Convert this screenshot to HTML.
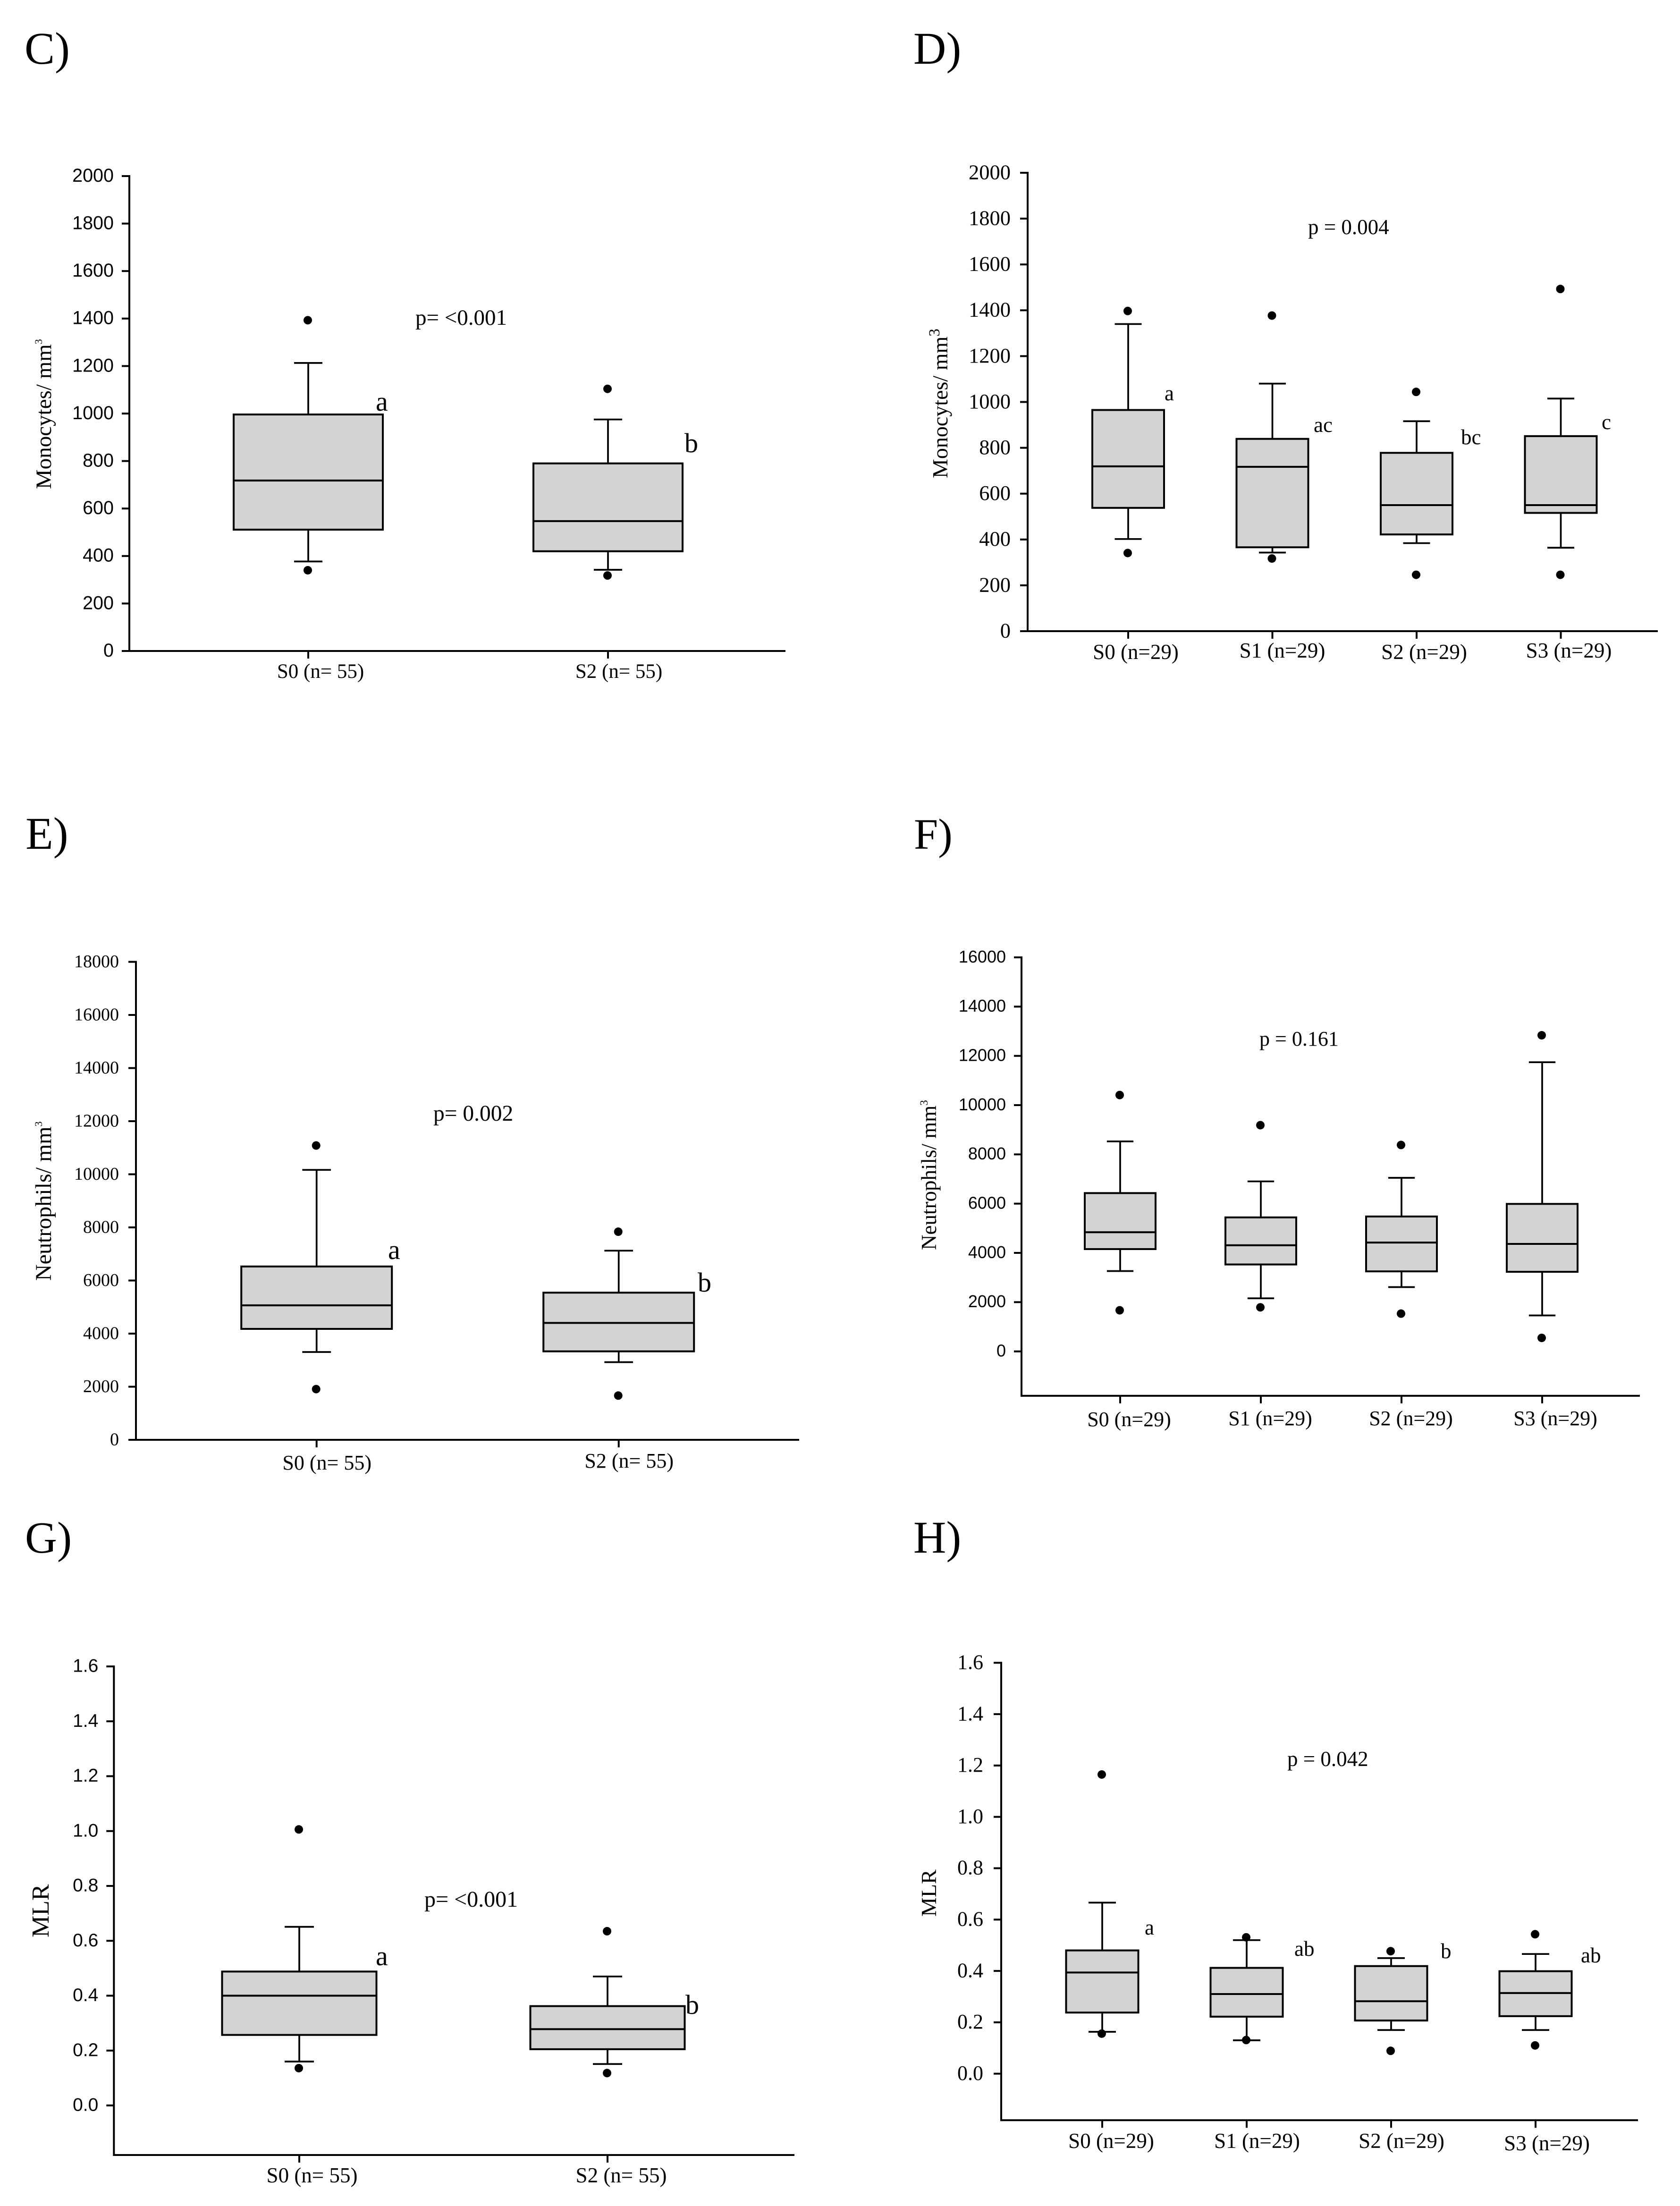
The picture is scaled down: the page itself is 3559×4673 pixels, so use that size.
<!DOCTYPE html>
<html lang="en">
<head>
<meta charset="utf-8">
<title>Monocytes, neutrophils and MLR box plots</title>
<style>
html,body{margin:0;padding:0;background:#fff;}
svg{display:block;}
text{font-family:"Liberation Serif",serif;fill:#000;}
.sans{font-family:"Liberation Sans",sans-serif;}
</style>
</head>
<body>
<svg id="figure" xmlns="http://www.w3.org/2000/svg" width="3559" height="4673" viewBox="0 0 3559 4673">
<rect x="0" y="0" width="3559" height="4673" fill="#fff"/>

<g id="panel-c">
<text x="52" y="135" font-size="96">C)</text>
<text transform="translate(108 1036) rotate(-90)" font-size="47">Monocytes/ mm<tspan dy="-19" font-size="22">3</tspan></text>
<text x="880" y="688" font-size="47">p= &lt;0.001</text>
<text x="796" y="870" font-size="58">a</text>
<text x="1450" y="958" font-size="58">b</text>
</g>

<g id="panel-d">
<text x="1935" y="135" font-size="96">D)</text>
<text transform="translate(2007 1013) rotate(-90)" font-size="46">Monocytes/ mm<tspan dy="-17" font-size="33">3</tspan></text>
<text x="2771" y="496" font-size="45">p = 0.004</text>
<text x="2467" y="848" font-size="45">a</text>
<text x="2783" y="915" font-size="45">ac</text>
<text x="3095" y="941" font-size="45">bc</text>
<text x="3393" y="909" font-size="45">c</text>
</g>

<g id="panel-e">
<text x="54" y="1798" font-size="96">E)</text>
<text transform="translate(108 2713) rotate(-90)" font-size="48">Neutrophils/ mm<tspan dy="-19" font-size="22">3</tspan></text>
<text x="918" y="2374" font-size="47.5">p= 0.002</text>
<text x="822" y="2667" font-size="58">a</text>
<text x="1478" y="2736" font-size="58">b</text>
</g>

<g id="panel-f">
<text x="1936" y="1798" font-size="92">F)</text>
<text transform="translate(1983 2648) rotate(-90)" font-size="45">Neutrophils/ mm<tspan dy="-18" font-size="23">3</tspan></text>
<text x="2668" y="2215" font-size="44">p = 0.161</text>
</g>

<g id="panel-g">
<text x="53" y="3289" font-size="94">G)</text>
<text transform="translate(103 4104) rotate(-90)" font-size="52">MLR</text>
<text x="899" y="4039" font-size="48">p= &lt;0.001</text>
<text x="796" y="4163" font-size="58">a</text>
<text x="1452" y="4266" font-size="58">b</text>
</g>

<g id="panel-h">
<text x="1935" y="3289" font-size="96">H)</text>
<text transform="translate(1983 4060) rotate(-90)" font-size="46">MLR</text>
<text x="2727" y="3741" font-size="45">p = 0.042</text>
<text x="2425" y="4098" font-size="45">a</text>
<text x="2742" y="4143" font-size="45">ab</text>
<text x="3052" y="4148" font-size="45">b</text>
<text x="3349" y="4157" font-size="45">ab</text>
</g>
</svg>

<script>
// ---- Panel C: Monocytes, two sessions ----
const cCategories = ['S0 (n= 55)', 'S2 (n= 55)'];
const cTicks = ['0', '200', '400', '600', '800', '1000', '1200', '1400', '1600', '1800', '2000'];
const cOutlierHigh = [1393, 1104];
const cWhiskerHigh = [1213, 975];
const cQ3 = [996, 790];
const cMedian = [718, 547];
const cQ1 = [511, 420];
const cWhiskerLow = [377, 342];
const cOutlierLow = [340, 318];

// ---- Panel D: Monocytes, four sessions ----
const dCategories = ['S0 (n=29)', 'S1 (n=29)', 'S2 (n=29)', 'S3 (n=29)'];
const dTicks = ['0', '200', '400', '600', '800', '1000', '1200', '1400', '1600', '1800', '2000'];
const dOutlierHigh = [1397, 1377, 1044, 1493];
const dWhiskerHigh = [1340, 1080, 916, 1015];
const dQ3 = [965, 839, 778, 851];
const dMedian = [719, 717, 550, 550];
const dQ1 = [538, 366, 422, 516];
const dWhiskerLow = [402, 343, 384, 364];
const dOutlierLow = [341, 317, 246, 246];

// ---- Panel E: Neutrophils, two sessions ----
const eCategories = ['S0 (n= 55)', 'S2 (n= 55)'];
const eTicks = ['0', '2000', '4000', '6000', '8000', '10000', '12000', '14000', '16000', '18000'];
const eOutlierHigh = [11084, 7837];
const eWhiskerHigh = [10166, 7123];
const eQ3 = [6528, 5542];
const eMedian = [5065, 4403];
const eQ1 = [4178, 3332];
const eWhiskerLow = [3307, 2924];
const eOutlierLow = [1910, 1666];

// ---- Panel F: Neutrophils, four sessions ----
const fCategories = ['S0 (n=29)', 'S1 (n=29)', 'S2 (n=29)', 'S3 (n=29)'];
const fTicks = ['0', '2000', '4000', '6000', '8000', '10000', '12000', '14000', '16000'];
const fOutlierHigh = [10410, 9186, 8382, 12837];
const fWhiskerHigh = [8528, 6903, 7049, 11742];
const fQ3 = [6428, 5441, 5478, 5989];
const fMedian = [4839, 4310, 4419, 4364];
const fQ1 = [4155, 3530, 3250, 3232];
const fWhiskerLow = [3262, 2155, 2611, 1461];
const fOutlierLow = [1670, 1790, 1534, 548];

// ---- Panel G: MLR, two sessions ----
const gCategories = ['S0 (n= 55)', 'S2 (n= 55)'];
const gTicks = ['0.0', '0.2', '0.4', '0.6', '0.8', '1.0', '1.2', '1.4', '1.6'];
const gOutlierHigh = [1.006, 0.635];
const gWhiskerHigh = [0.651, 0.470];
const gQ3 = [0.488, 0.362];
const gMedian = [0.400, 0.278];
const gQ1 = [0.257, 0.205];
const gWhiskerLow = [0.160, 0.151];
const gOutlierLow = [0.136, 0.118];

// ---- Panel H: MLR, four sessions ----
const hCategories = ['S0 (n=29)', 'S1 (n=29)', 'S2 (n=29)', 'S3 (n=29)'];
const hTicks = ['0.0', '0.2', '0.4', '0.6', '0.8', '1.0', '1.2', '1.4', '1.6'];
const hOutlierHigh = [1.165, 0.531, 0.477, 0.543];
const hWhiskerHigh = [0.666, 0.520, 0.450, 0.466];
const hQ3 = [0.480, 0.412, 0.419, 0.399];
const hMedian = [0.394, 0.310, 0.282, 0.314];
const hQ1 = [0.238, 0.222, 0.207, 0.224];
const hWhiskerLow = [0.163, 0.130, 0.170, 0.170];
const hOutlierLow = [0.156, 0.131, 0.089, 0.110];

const SVG_NS = 'http://www.w3.org/2000/svg';

function shape(parent, tag, props) {
  const node = document.createElementNS(SVG_NS, tag);
  for (const key in props) node.setAttribute(key, props[key]);
  parent.appendChild(node);
  return node;
}

function drawPanel(id, frame, categories, ticks, outlierHigh, whiskerHigh, q3, median, q1, whiskerLow, outlierLow) {
  const group = document.getElementById('panel-' + id);
  const topValue = Number(ticks[ticks.length - 1]);
  const yScale = function (v) {
    return frame.yZero + (frame.yTop - frame.yZero) * (v / topValue);
  };
  const xScale = function (i) {
    return frame.xFirst + i * frame.xStep;
  };

  const yAxis = shape(group, 'line', {x1: frame.xAxis, x2: frame.xAxis, y1: yScale(topValue) - 2, y2: frame.yBottom + 2, stroke: '#000', 'stroke-width': 4});
  
  

  const xAxis = shape(group, 'line', {x1: frame.yZero === frame.yBottom ? frame.xAxis - 16 : frame.xAxis, x2: frame.xEnd, y1: frame.yBottom, y2: frame.yBottom, stroke: '#000', 'stroke-width': 4});
  
  

  ticks.forEach(function (label) {
    const v = Number(label);
    const tick = shape(group, 'line', {x1: frame.xAxis - 16, x2: frame.xAxis, y1: yScale(v), y2: yScale(v), stroke: '#000', 'stroke-width': 4});
    
    
    const text = shape(group, 'text', {x: frame.xAxis - frame.tickGap, y: yScale(v) + frame.tickSize * 0.3, 'text-anchor': 'end', 'font-size': frame.tickSize});
    if (frame.tickSans) text.setAttribute('class', 'sans');
    text.textContent = label;
    
    
  });

  categories.forEach(function (name, i) {
    const cx = xScale(i);
    const key = 'panel-' + id + '-s' + i;

    const xTick = shape(group, 'line', {x1: cx, x2: cx, y1: frame.yBottom, y2: frame.yBottom + 16, stroke: '#000', 'stroke-width': 4});
    
    

    const catLabel = shape(group, 'text', {x: cx + frame.labelDx[i], y: frame.labelY[i], 'text-anchor': 'middle', 'font-size': frame.labelSize});
    catLabel.textContent = name;
    
    

    const upper = shape(group, 'line', {x1: cx, x2: cx, y1: yScale(whiskerHigh[i]), y2: yScale(q3[i]), stroke: '#000', 'stroke-width': 3.7});
    
    

    const upperCap = shape(group, 'line', {x1: cx - frame.capWidth / 2, x2: cx + frame.capWidth / 2, y1: yScale(whiskerHigh[i]), y2: yScale(whiskerHigh[i]), stroke: '#000', 'stroke-width': 3.7});
    
    

    const lower = shape(group, 'line', {x1: cx, x2: cx, y1: yScale(q1[i]), y2: yScale(whiskerLow[i]), stroke: '#000', 'stroke-width': 3.7});
    
    

    const lowerCap = shape(group, 'line', {x1: cx - frame.capWidth / 2, x2: cx + frame.capWidth / 2, y1: yScale(whiskerLow[i]), y2: yScale(whiskerLow[i]), stroke: '#000', 'stroke-width': 3.7});
    
    

    const box = shape(group, 'rect', {x: cx - frame.boxWidth / 2, y: yScale(q3[i]), width: frame.boxWidth, height: yScale(q1[i]) - yScale(q3[i]), fill: '#d3d3d3', stroke: '#000', 'stroke-width': 4});
    
    

    const med = shape(group, 'line', {x1: cx - frame.boxWidth / 2, x2: cx + frame.boxWidth / 2, y1: yScale(median[i]), y2: yScale(median[i]), stroke: '#000', 'stroke-width': 4});
    
    

    const dotHigh = shape(group, 'circle', {cx: cx - 1, cy: yScale(outlierHigh[i]), r: 9, fill: '#000'});
    
    

    const dotLow = shape(group, 'circle', {cx: cx - 1, cy: yScale(outlierLow[i]), r: 9, fill: '#000'});
    
    
  });
}

drawPanel('c', {xAxis: 274, xEnd: 1664, yTop: 373, yZero: 1379, yBottom: 1379, xFirst: 653, xStep: 635, boxWidth: 316, capWidth: 60, tickSize: 39.5, tickGap: 33, tickSans: true, labelSize: 43, labelDx: [26, 23], labelY: [1436, 1436]},
  cCategories, cTicks, cOutlierHigh, cWhiskerHigh, cQ3, cMedian, cQ1, cWhiskerLow, cOutlierLow);

drawPanel('d', {xAxis: 2177, xEnd: 3512, yTop: 366, yZero: 1337, yBottom: 1337, xFirst: 2390, xStep: 305.5, boxWidth: 152, capWidth: 57, tickSize: 44.5, tickGap: 36, tickSans: false, labelSize: 45, labelDx: [16, 21, 16, 17], labelY: [1396, 1393, 1396, 1393]},
  dCategories, dTicks, dOutlierHigh, dWhiskerHigh, dQ3, dMedian, dQ1, dWhiskerLow, dOutlierLow);

drawPanel('e', {xAxis: 288, xEnd: 1693, yTop: 2037.5, yZero: 3050, yBottom: 3050, xFirst: 670.7, xStep: 640, boxWidth: 319, capWidth: 60.7, tickSize: 38, tickGap: 36, tickSans: false, labelSize: 44, labelDx: [22, 22], labelY: [3113, 3109]},
  eCategories, eTicks, eOutlierHigh, eWhiskerHigh, eQ3, eMedian, eQ1, eWhiskerLow, eOutlierLow);

drawPanel('f', {xAxis: 2164, xEnd: 3474, yTop: 2028, yZero: 2862.7, yBottom: 2956.7, xFirst: 2373, xStep: 298, boxWidth: 150, capWidth: 56.3, tickSize: 36, tickGap: 33, tickSans: true, labelSize: 44, labelDx: [19, 20, 20, 28], labelY: [3021, 3019, 3019, 3019]},
  fCategories, fTicks, fOutlierHigh, fWhiskerHigh, fQ3, fMedian, fQ1, fWhiskerLow, fOutlierLow);

drawPanel('g', {xAxis: 241.3, xEnd: 1683, yTop: 3530, yZero: 4460, yBottom: 4565, xFirst: 634, xStep: 653, boxWidth: 327, capWidth: 62, tickSize: 39, tickGap: 33, tickSans: true, labelSize: 45, labelDx: [27, 29], labelY: [4623, 4623]},
  gCategories, gTicks, gOutlierHigh, gWhiskerHigh, gQ3, gMedian, gQ1, gWhiskerLow, gOutlierLow);

drawPanel('h', {xAxis: 2121, xEnd: 3470, yTop: 3522.3, yZero: 4392.7, yBottom: 4491.3, xFirst: 2335, xStep: 306, boxWidth: 153, capWidth: 58, tickSize: 44, tickGap: 38, tickSans: false, labelSize: 45, labelDx: [19, 22, 22, 24], labelY: [4550, 4550, 4550, 4555]},
  hCategories, hTicks, hOutlierHigh, hWhiskerHigh, hQ3, hMedian, hQ1, hWhiskerLow, hOutlierLow);
</script>
</body>
</html>
